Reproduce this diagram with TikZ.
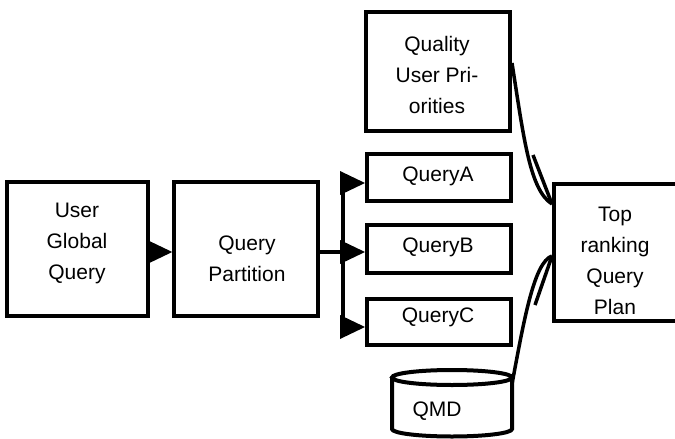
\documentclass[tikz,border=0pt]{standalone}
\usepackage{fontspec}
\setmainfont{Liberation Sans}
\usetikzlibrary{arrows.meta}

\tikzset{
  box/.style={draw, line width=4pt, inner sep=0pt},
  txt/.style={font=\fontsize{21}{31}\selectfont, align=center, inner sep=0pt},
  wire/.style={line width=4pt},
  feed/.style={-{Triangle[length=25pt,width=24pt,line width=0pt]}, line width=4pt},
  curveline/.style={line width=3.5pt},
}

\begin{document}
\begin{tikzpicture}[x=1pt,y=-1pt]
\useasboundingbox (0,0) rectangle (675,439);

% boxes
\node[box, minimum width=141pt, minimum height=134pt] (ugq) at (77.5,249) {};
\node[box, minimum width=143.5pt, minimum height=134pt] (qp) at (246,249) {};
\node[box, minimum width=144pt, minimum height=119pt] (qup) at (438,71.5) {};
\node[box, minimum width=144pt, minimum height=47pt] (qa) at (439,177.5) {};
\node[box, minimum width=144pt, minimum height=48pt] (qb) at (439,249) {};
\node[box, minimum width=144pt, minimum height=46pt] (qc) at (439,322) {};
\node[box, minimum width=123pt, minimum height=137pt] (top) at (615.5,252.5) {};

% labels
\node[txt] (ugqt) at (77,243) {User\\Global\\Query};
\node[txt] (qpt) at (247,259) {Query\\Partition};
\node[txt] (qupt) at (437,74.5) {Quality\\User Pri-\\orities};
\node[txt] (qat) at (438,176) {QueryA};
\node[txt] (qbt) at (438,247) {QueryB};
\node[txt] (qct) at (438,317.5) {QueryC};
\node[txt] (topt) at (615,261) {Top\\ranking\\Query\\Plan};

% QMD store
\draw[line width=4pt] (452,377.5) ellipse [x radius=60, y radius=7.5];
\draw[line width=4pt] (392,377.5) -- (392,429) arc [start angle=180, end angle=360, x radius=60, y radius=-7.5] -- (512,377.5);
\node[txt] (qmd) at (437,411) {QMD};
\coordinate (qmdr) at (512,384);

% partition fan-out
\coordinate (ja) at (343,183);
\coordinate (jb) at (343,252);
\coordinate (jc) at (343,327);
\draw[feed] ([yshift=-3pt]ugq.east) -- ([yshift=-3pt]qp.west);
\draw[wire] ([yshift=-3pt]qp.east) -- (jb);
\draw[wire] (ja) -- (jc);
\draw[feed] (ja) -- (ja -| qa.west);
\draw[feed] (jb) -- (jb -| qb.west);
\draw[feed] (jc) -- (jc -| qc.west);

% inputs to the plan
\coordinate (p1) at ([yshift=48.5pt]top.west);
\coordinate (p2) at ([yshift=-3.5pt]top.west);
\draw[curveline] ([yshift=8.5pt]qup.east) .. controls (524,140) and (530,190) .. (p1);
\draw[curveline] (533,155) -- (p1);
\draw[curveline] (qmdr) .. controls (524,320) and (534,262) .. (p2);
\draw[curveline] (535,305) -- (p2);
\end{tikzpicture}
\end{document}
